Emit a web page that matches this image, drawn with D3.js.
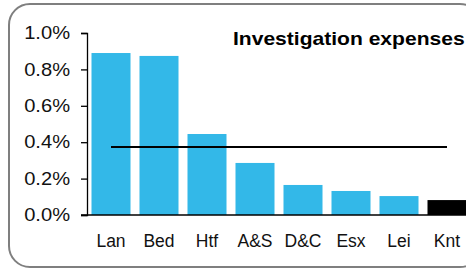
<!DOCTYPE html>
<html>
<head>
<meta charset="utf-8">
<script src="https://cdn.jsdelivr.net/npm/d3@7"></script>
<style>
  body { margin: 0; background: #fff; }
  svg { display: block; font-family: "Liberation Sans", Arial, sans-serif; }
</style>
</head>
<body>
<div id="container"></div>
<script>
/* DATA */
const areas = ["Lan", "Bed", "Htf", "A&S", "D&C", "Esx", "Lei", "Knt"]
const expenses = [0.0089, 0.00874, 0.00445, 0.00286, 0.00165, 0.00132, 0.00104, 0.00082]
const highlight = ["Knt"]
const average = 0.00374
const yTicks = [0, 0.002, 0.004, 0.006, 0.008, 0.01]

/* CONSTANTS */
const width = 466,
  height = 269,
  margin = { top: 33, bottom: 54, left: 87 }

const svg = d3.select("#container")
  .append("svg")
  .attr("width", width)
  .attr("height", height)

// frame
svg.append("rect")
  .attr("x", 9).attr("y", 4)
  .attr("width", 472).attr("height", 263)
  .attr("rx", 21).attr("ry", 21)
  .attr("fill", "#fff")
  .attr("stroke", "#7f7f7f")
  .attr("stroke-width", 2)

/* SCALES */
const xScale = d3.scaleBand()
  .domain(areas)
  .range([margin.left, margin.left + 8 * 48])
  .paddingInner(0.1875)
  .paddingOuter(0.09375)

const yScale = d3.scaleLinear()
  .domain([0, 0.01])
  .range([height - margin.bottom, margin.top])

// bars
svg.selectAll(".bar")
  .data(areas)
  .join("rect")
  .attr("class", "bar")
  .attr("x", d => xScale(d))
  .attr("y", (d, i) => yScale(expenses[i]))
  .attr("width", xScale.bandwidth())
  .attr("height", (d, i) => yScale(0) - yScale(expenses[i]))
  .attr("fill", d => highlight.includes(d) ? "#000" : "#33b8e8")

// y axis
const yAxis = d3.axisLeft(yScale)
  .tickValues(yTicks)
  .tickFormat(d3.format(".1%"))
  .tickSize(6)

const gy = svg.append("g")
  .attr("transform", `translate(${margin.left},0)`)
  .call(yAxis)
gy.select(".domain").attr("stroke", "#000").attr("stroke-width", 1.3)
gy.selectAll(".tick line").attr("stroke", "#000").attr("stroke-width", 1.3)
// labels are a bit wider than the font, stretch them
gy.selectAll(".tick text")
  .attr("font-size", 17.5)
  .attr("fill", "#111")
  .attr("x", -17 / 1.15)
  .attr("transform", "scale(1.15,1)")

// x axis
const xAxis = d3.axisBottom(xScale).tickSize(0).tickPadding(20)
const gx = svg.append("g")
  .attr("transform", `translate(0,${yScale(0)})`)
  .call(xAxis)
gx.select(".domain")
  .attr("d", `M${margin.left - 6},0H${width}`)
  .attr("stroke", "#000").attr("stroke-width", 1.5)
gx.selectAll(".tick text")
  .attr("font-size", 17.5)
  .attr("fill", "#111")

// average line
svg.append("line")
  .attr("x1", xScale(areas[0]) + xScale.bandwidth() / 2)
  .attr("x2", xScale(areas[areas.length - 1]) + xScale.bandwidth() / 2)
  .attr("y1", yScale(average))
  .attr("y2", yScale(average))
  .attr("stroke", "#000")
  .attr("stroke-width", 2)

// title
svg.append("text")
  .attr("transform", "translate(233,45) scale(1.17,1)")
  .attr("font-size", 18)
  .attr("font-weight", "bold")
  .attr("fill", "#000")
  .text("Investigation expenses")
</script>
</body>
</html>
